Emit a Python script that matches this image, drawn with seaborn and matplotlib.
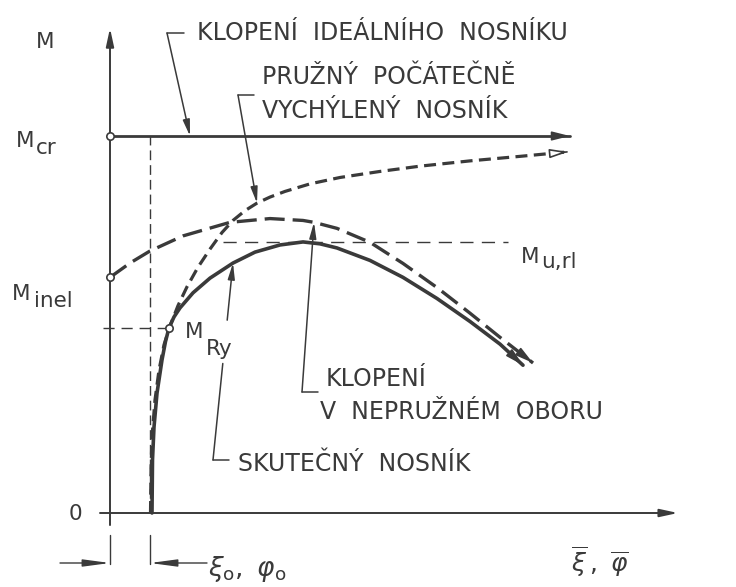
import matplotlib
matplotlib.use("Agg")
import matplotlib.pyplot as plt
import seaborn as sns

sns.set_style("white")
plt.rcParams['font.family'] = ['DejaVu Sans']
plt.rcParams['mathtext.fontset'] = 'dejavusans'

INK = '#3a3a3a'

# characteristic values (M / Mcr, deflection in units of xi)
M_cr = 1.0
M_inel = 0.625
M_Ry = 0.491
M_url = 0.719
xi_0 = 0.40
x_Ry = 0.59

# skutecny nosnik (solid curve)
real_x = [0.42, 0.425, 0.44, 0.47, 0.52, 0.555, 0.59, 0.64, 0.70, 0.83, 1.00, 1.23,
          1.45, 1.70, 1.93, 2.10, 2.27, 2.60, 2.93, 3.27, 3.60, 3.90, 4.13]
real_m = [0.0, 0.141, 0.228, 0.318, 0.406, 0.455, 0.491, 0.520, 0.544, 0.584, 0.623, 0.663,
          0.692, 0.711, 0.719, 0.714, 0.703, 0.670, 0.625, 0.569, 0.508, 0.448, 0.392]

# klopeni v nepruznem oboru (long dashes)
inel_x = [0.0, 0.20, 0.40, 0.73, 1.20, 1.60, 1.93, 2.04, 2.27, 2.60, 2.93, 3.27, 3.60, 3.90, 4.23]
inel_m = [0.625, 0.663, 0.695, 0.735, 0.771, 0.781, 0.776, 0.771, 0.755, 0.718, 0.662,
          0.598, 0.530, 0.466, 0.398]

# pruzny pocatecne vychyleny nosnik (short dashes)
elas_x = [0.405, 0.41, 0.42, 0.45, 0.49, 0.54, 0.60, 0.68, 0.77, 0.88, 1.00, 1.12, 1.23,
          1.35, 1.47, 1.60, 1.75, 2.00, 2.30, 2.70, 3.10, 3.60, 4.10, 4.58]
elas_m = [0.0, 0.114, 0.202, 0.300, 0.379, 0.446, 0.496, 0.550, 0.600, 0.652, 0.700, 0.744,
          0.776, 0.802, 0.822, 0.838, 0.853, 0.873, 0.890, 0.906, 0.920, 0.934, 0.946, 0.958]

# klopeni idealniho nosniku
ideal_x = [0.0, 4.60]
ideal_m = [M_cr, M_cr]

# marked points
pts_x = [0.0, 0.0, x_Ry]
pts_m = [M_cr, M_inel, M_Ry]


# pixel -> data helper, only used for placing labels and leaders
def pix(px, py):
    return (px - 110) / 100, (513 - py) / 377


def head(ax, tip, prev, fc=INK, ms=18, lw=1.2):
    bx = tip[0] - (tip[0] - prev[0]) * 0.02
    by = tip[1] - (tip[1] - prev[1]) * 0.02
    ax.annotate('', xy=tip, xytext=(bx, by),
                arrowprops=dict(arrowstyle='-|>,head_length=0.6,head_width=0.15',
                                color=INK, fc=fc, lw=lw, shrinkA=0, shrinkB=0,
                                mutation_scale=ms), zorder=6)


def leader(ax, tick_end, corner, tip):
    ax.plot([tick_end[0], corner[0]], [tick_end[1], corner[1]], color=INK, lw=1.1)
    ax.annotate('', xy=tip, xytext=corner,
                arrowprops=dict(arrowstyle='-|>,head_length=0.6,head_width=0.13',
                                color=INK, lw=1.1, shrinkA=0, shrinkB=0,
                                mutation_scale=16))


fig = plt.figure(figsize=(7.36, 5.87), dpi=100)
ax = fig.add_axes([0, 0, 1, 1])
ax.set_xlim(pix(0, 0)[0], pix(736, 0)[0])
ax.set_ylim(pix(0, 587)[1], pix(0, 0)[1])
ax.axis('off')

# axes with arrows
ax.annotate('', xy=(5.68, 0), xytext=(-0.10, 0),
            arrowprops=dict(arrowstyle='-|>,head_length=0.6,head_width=0.13', color=INK,
                            lw=1.4, shrinkA=0, shrinkB=0, mutation_scale=18))
ax.annotate('', xy=(0, 1.286), xytext=(0, -0.032),
            arrowprops=dict(arrowstyle='-|>,head_length=0.6,head_width=0.13', color=INK,
                            lw=1.4, shrinkA=0, shrinkB=0, mutation_scale=18))

# thin dashed reference lines
thin = dict(color=INK, lw=1.0)
ax.plot([xi_0, xi_0], [0, M_cr], **thin)[0].set_dashes([7, 3.6])
ax.plot([-0.07, x_Ry], [M_Ry, M_Ry], **thin)[0].set_dashes([8, 5])
ax.plot([1.13, 3.98], [M_url, M_url], **thin)[0].set_dashes([9.5, 6])

# curves
sns.lineplot(x=ideal_x, y=ideal_m, ax=ax, color=INK, lw=2.0, sort=False, estimator=None)
sns.lineplot(x=elas_x, y=elas_m, ax=ax, color=INK, lw=2.3, sort=False, estimator=None)
ax.lines[-1].set_dashes([3.75, 2.0])
sns.lineplot(x=inel_x, y=inel_m, ax=ax, color=INK, lw=2.4, sort=False, estimator=None)
ax.lines[-1].set_dashes([6.0, 2.4])
sns.lineplot(x=real_x, y=real_m, ax=ax, color=INK, lw=2.6, sort=False, estimator=None)

head(ax, (ideal_x[-1], ideal_m[-1]), (ideal_x[-2], ideal_m[-2]))
head(ax, (elas_x[-1], elas_m[-1]), (elas_x[-2], elas_m[-2]), fc='white')
head(ax, (inel_x[-1], inel_m[-1]), (inel_x[-2], inel_m[-2]))
head(ax, (real_x[-1], real_m[-1]), (real_x[-2], real_m[-2]))

sns.scatterplot(x=pts_x, y=pts_m, ax=ax, marker='o', s=28, color='white',
                edgecolor=INK, linewidth=1.2, zorder=7)

# leaders
leader(ax, pix(184, 33), pix(167, 33), (0.80, M_cr))
leader(ax, pix(254, 95), pix(238, 95), (elas_x[14], elas_m[14]))
leader(ax, pix(318, 392), pix(302, 392), (inel_x[7], inel_m[7]))
c = pix(213, 460)
t = (real_x[11], real_m[11])
ax.plot([pix(229, 460)[0], c[0]], [c[1], c[1]], color=INK, lw=1.1)
ax.plot([c[0], c[0] + (t[0] - c[0]) * 0.49], [c[1], c[1] + (t[1] - c[1]) * 0.49],
        color=INK, lw=1.1)
s = (c[0] + (t[0] - c[0]) * 0.71, c[1] + (t[1] - c[1]) * 0.71)
ax.annotate('', xy=t, xytext=s,
            arrowprops=dict(arrowstyle='-|>,head_length=0.6,head_width=0.13', color=INK,
                            lw=1.1, shrinkA=0, shrinkB=0, mutation_scale=16))

# dimension xi_0 below the axis
ax.plot([0, 0], [pix(0, 535)[1], pix(0, 564)[1]], color=INK, lw=1.0)
ax.plot([xi_0, xi_0], [pix(0, 535)[1], pix(0, 564)[1]], color=INK, lw=1.0)
yd = pix(0, 563)[1]
ax.annotate('', xy=(0, yd), xytext=(pix(60, 0)[0], yd),
            arrowprops=dict(arrowstyle='-|>,head_length=0.9,head_width=0.12', color=INK,
                            lw=1.0, shrinkA=0, shrinkB=0, mutation_scale=18))
ax.annotate('', xy=(xi_0, yd), xytext=(pix(207, 0)[0], yd),
            arrowprops=dict(arrowstyle='-|>,head_length=0.9,head_width=0.12', color=INK,
                            lw=1.0, shrinkA=0, shrinkB=0, mutation_scale=18))

# labels
TXT = dict(color=INK, va='baseline', ha='left', fontsize=17)
SYM = dict(color=INK, va='baseline', ha='left', fontsize=15.5)
ax.text(*pix(36, 48), 'M', **SYM)
ax.text(*pix(16, 147), 'M', **SYM)
ax.text(*pix(36, 154), 'cr', **SYM)
ax.text(*pix(12, 300), 'M', **SYM)
ax.text(*pix(34, 307), 'inel', **SYM)
ax.text(*pix(75, 520), '0', color=INK, va='baseline', ha='center', fontsize=15.5)
ax.text(*pix(185, 338), 'M', **SYM)
ax.text(*pix(206, 355), 'Ry', **SYM)
ax.text(*pix(521, 263), 'M', **SYM)
ax.text(*pix(541, 268), 'u,rl', **SYM)

ax.text(*pix(197, 40), 'KLOPENÍ  IDEÁLNÍHO  NOSNÍKU', **TXT)
ax.text(*pix(262, 84), 'PRUŽNÝ  POČÁTEČNĚ', **TXT)
ax.text(*pix(262, 118), 'VYCHÝLENÝ  NOSNÍK', **TXT)
ax.text(*pix(326, 386), 'KLOPENÍ', **TXT)
ax.text(*pix(320, 419), 'V  NEPRUŽNÉM  OBORU', **TXT)
ax.text(*pix(238, 471), 'SKUTEČNÝ  NOSNÍK', **TXT)

ax.text(*pix(208, 576), r'$\xi_{\mathrm{o}},\ \varphi_{\mathrm{o}}$', color=INK,
        va='baseline', ha='left', fontsize=19)
ax.text(*pix(571, 572), r'$\overline{\xi}\,,\ \overline{\varphi}$', color=INK,
        va='baseline', ha='left', fontsize=18)

fig.savefig('out.png', dpi=100, facecolor='white')
